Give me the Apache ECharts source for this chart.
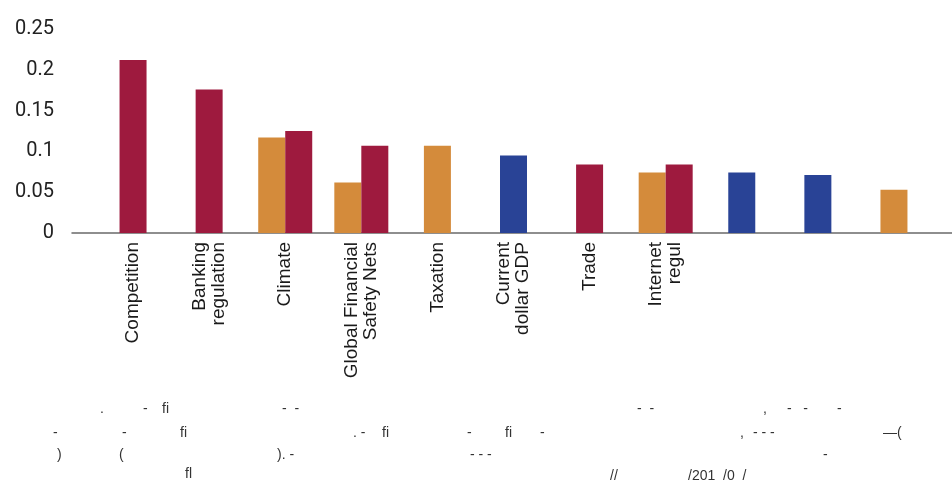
<!DOCTYPE html>
<html><head><meta charset="utf-8">
<script src="https://cdn.jsdelivr.net/npm/echarts@6/dist/echarts.min.js"></script>
<style>html,body{margin:0;padding:0;background:#fff}#c{width:952px;height:483px}</style>
</head><body><div id="c"></div>
<script>
const categories = ['Competition','Banking\nregulation','Climate','Global Financial\nSafety Nets','Taxation','Current\ndollar GDP','Trade','Internet\nregul','','',''];
const orangeValues  = [null, null, 0.117, 0.062, 0.107, null, null, 0.074, null, null, 0.053];
const crimsonValues = [0.212, 0.176, 0.125, 0.107, null, null, 0.084, 0.084, null, null, null];
const blueValues    = [null, null, null, null, null, 0.095, null, null, 0.074, 0.071, null];
const yMin = 0, yMax = 0.25, yInterval = 0.05;

const seriesDefs = [
  {name:'orange', color:'#D48B3B', values: orangeValues},
  {name:'crimson', color:'#9E1A3E', values: crimsonValues},
  {name:'blue', color:'#294396', values: blueValues}
];
const counts = categories.map((_, i) => seriesDefs.reduce((n, s) => n + (s.values[i] != null ? 1 : 0), 0));

const series = [];
seriesDefs.forEach(s => {
  series.push({
    type:'bar', name: s.name + '-single', xAxisIndex:0, yAxisIndex:0, stack:'single',
    barWidth:27, itemStyle:{color:s.color},
    data: s.values.map((v,i) => counts[i] === 1 ? v : null)
  });
});
seriesDefs.forEach(s => {
  const d = s.values.map((v,i) => counts[i] >= 2 ? v : null);
  if (d.some(v => v != null)) {
    series.push({
      type:'bar', name: s.name + '-pair', xAxisIndex:1, yAxisIndex:0,
      barWidth:27, barGap:'0%', itemStyle:{color:s.color}, data:d
    });
  }
});

// stray footnote glyph fragments visible in the reference
const footFrags = [
  ['.',100,410],['-',143,410],['fi',162,410],['-  -',282,410],['-  -',637,410],[',',763,410],['-   -',787,410],['-',837,410],
  ['-',53,434],['-',122,434],['fi',180,434],['. -',353,434],['fi',382,434],['-',467,434],['fi',505,434],['-',540,434],[',',740,434],['- - -',753,434],['\u2014(',883,434],
  [')',57,456],['(',119,456],['). -',277,456],['- - -',470,456],['-',823,456],
  ['fl',185,475],['//',610,477],['/201  /0  /',688,477]
];

const chart = echarts.init(document.getElementById('c'));
chart.setOption({
  animation:false,
  grid:[
    {left:95, right:20, top:29, bottom:250},
    {left:72, right:0, top:29, bottom:250}
  ],
  xAxis:[
    {type:'category', gridIndex:0, data:categories, axisLine:{show:false}, axisTick:{show:false},
     axisLabel:{interval:0, rotate:90, margin:9, fontSize:19, lineHeight:19, fontFamily:'Liberation Sans', color:'#1a1a1a'}},
    {type:'category', gridIndex:0, data:categories, show:false},
    {type:'value', gridIndex:1, min:0, max:1, position:'bottom',
     axisLine:{show:true, lineStyle:{color:'#6a6a6a', width:1.5}}, axisTick:{show:false}, axisLabel:{show:false}, splitLine:{show:false}}
  ],
  yAxis:[
    {type:'value', gridIndex:0, min:yMin, max:yMax, interval:yInterval, axisLine:{show:false}, axisTick:{show:false}, splitLine:{show:false},
     axisLabel:{margin:41, fontSize:20, fontFamily:'Roboto', color:'#222'}},
    {type:'value', gridIndex:1, min:0, max:1, show:false}
  ],
  series: series,
  graphic: footFrags.map(f => ({type:'text', left:f[1], top:f[2]-8, style:{text:f[0], fontSize:14, fontFamily:'Liberation Sans', fill:'#333'}}))
});
</script></body></html>
